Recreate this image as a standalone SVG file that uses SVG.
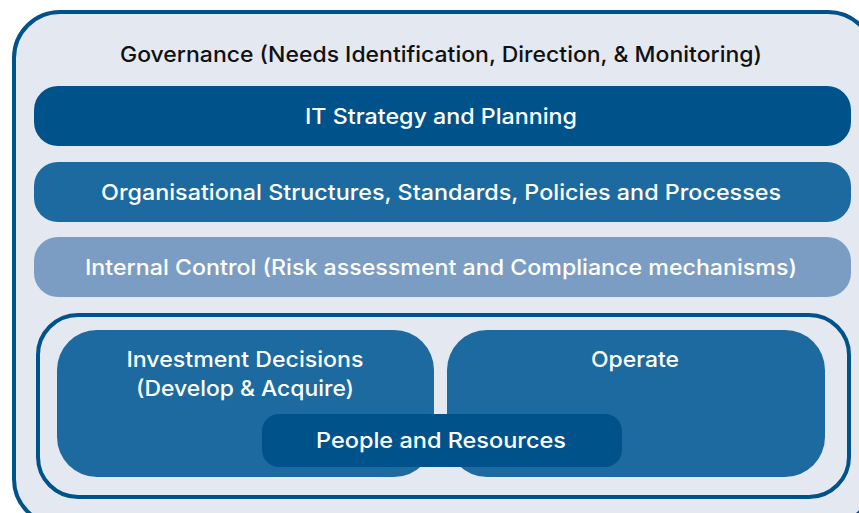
<svg xmlns="http://www.w3.org/2000/svg" width="859" height="513" viewBox="0 0 859 513">
<style>
.t{font-family:Inter,"Liberation Sans",Arial,sans-serif;font-size:21.5px;font-weight:500;text-anchor:middle}
.w{fill:#ffffff}
.k{fill:#111111}
</style>
<rect x="0" y="0" width="859" height="513" fill="#ffffff"/>
<g id="governance">
<rect x="14" y="12" width="860" height="513" rx="46" fill="#e4e8f1" stroke="#00538a" stroke-width="4"/>
<text class="t k" x="441" y="62" textLength="642" lengthAdjust="spacingAndGlyphs">Governance (Needs Identification, Direction, &amp; Monitoring)</text>
</g>
<g id="it-strategy">
<rect x="34" y="86" width="817" height="60" rx="24" fill="#00528a"/>
<text class="t w" x="441" y="124" textLength="272" lengthAdjust="spacingAndGlyphs">IT Strategy and Planning</text>
</g>
<g id="org-structures">
<rect x="34" y="162" width="817" height="60" rx="24" fill="#1c6a9f"/>
<text class="t w" x="441" y="200" textLength="680" lengthAdjust="spacingAndGlyphs">Organisational Structures, Standards, Policies and Processes</text>
</g>
<g id="internal-control">
<rect x="34" y="237" width="817" height="60" rx="24" fill="#7b9dc4"/>
<text class="t w" x="441" y="275" textLength="712" lengthAdjust="spacingAndGlyphs">Internal Control (Risk assessment and Compliance mechanisms)</text>
</g>
<g id="inner-frame">
<rect x="38" y="315" width="811" height="182" rx="40" fill="none" stroke="#00538a" stroke-width="4"/>
</g>
<g id="investment">
<rect x="57" y="330" width="377" height="147" rx="40" fill="#1c6a9f"/>
<text class="t w" x="245" y="367" textLength="237" lengthAdjust="spacingAndGlyphs">Investment Decisions</text>
<text class="t w" x="245" y="396" textLength="218" lengthAdjust="spacingAndGlyphs">(Develop &amp; Acquire)</text>
</g>
<g id="operate">
<rect x="447" y="330" width="378" height="147" rx="40" fill="#1c6a9f"/>
<text class="t w" x="635" y="367" textLength="88" lengthAdjust="spacingAndGlyphs">Operate</text>
</g>
<g id="people">
<rect x="262" y="414" width="360" height="53" rx="17" fill="#00538a"/>
<text class="t w" x="441" y="448" textLength="250" lengthAdjust="spacingAndGlyphs">People and Resources</text>
</g>
<g id="connectors"></g>
</svg>
